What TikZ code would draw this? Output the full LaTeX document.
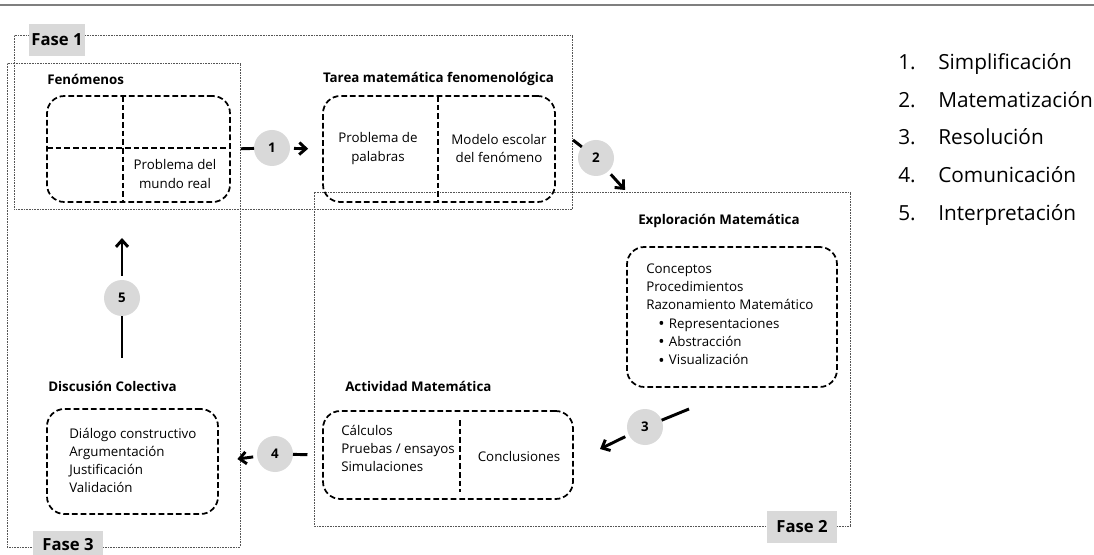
\documentclass[tikz,border=0pt]{standalone}
\usepackage{fontspec}
\setmainfont{Open Sans}
\usetikzlibrary{arrows.meta,fit}
\definecolor{cgray}{HTML}{D9D9D9}
\definecolor{lgray}{HTML}{7F7F7F}
\definecolor{fgray}{HTML}{555555}
\newcommand{\mybul}{\hspace*{9pt}\makebox[8pt][l]{\raisebox{-1.1pt}{\fontsize{12.5}{13}\selectfont\textbullet}}}
\tikzset{
  frame/.style={draw=fgray, line width=0.75pt, dash pattern=on 0.6pt off 0.6pt},
  dbox/.style={draw, line width=1.3pt, dash pattern=on 4.3pt off 2.2pt, rounded corners=13pt, inner sep=0pt},
  dline/.style={line width=1.3pt, dash pattern=on 4.3pt off 2.2pt},
  faselbl/.style={fill=cgray, font=\bfseries\fontsize{12.5}{14}\selectfont, inner sep=0pt},
  ttl/.style={font=\bfseries\fontsize{10}{12}\selectfont, inner sep=0pt},
  txt/.style={font=\fontsize{10}{13.7}\selectfont, inner sep=0pt},
  num/.style={circle, fill=cgray, minimum size=27pt, inner sep=0pt, outer sep=0pt, font=\bfseries\fontsize{10}{12}\selectfont},
  conn/.style={line width=2.2pt},
  arr/.style={line width=2.2pt, -{Straight Barb[length=5pt,width=9pt,line width=2.2pt]}},
  leg/.style={font=\fontsize{15.6}{18}\selectfont, inner sep=0pt, anchor=base west}
}
\begin{document}
\begin{tikzpicture}[x=0.75pt,y=-0.75pt]
\useasboundingbox (0,0) rectangle (1094,555);
% top rule
\draw[lgray, line width=1.1pt] (0,5) -- (1094,5);
% phase frames
\draw[frame] (14,36) rectangle (572,210);
\draw[frame] (7,64) rectangle (240,547);
\draw[frame] (314,193) rectangle (850,526);
\node[faselbl, minimum width=42pt, minimum height=24pt] (f1) at (57,40) {Fase 1};
\node[faselbl, minimum width=52.5pt, minimum height=26pt] (f3) at (68,548) {};
\node[font=\bfseries\fontsize{12.5}{14}\selectfont, inner sep=0pt] (f3t) at (68,545) {Fase 3};
\node[faselbl, minimum width=52.5pt, minimum height=24pt] (f2) at (802,527) {Fase 2};

% Fenomenos
\node[ttl, anchor=west] (tfen) at (47,79) {Fenómenos};
\node[dbox, fit={(47,96) (230,202)}] (fen) {};
\draw[dline] (123,96) -- (123,202);
\draw[dline] (47,148) -- (230,148);
\node[txt, align=center] (pmr) at (175,174) {Problema del\\mundo real};

% Tarea
\node[ttl] (ttar) at (438.5,79) {Tarea matemática fenomenológica};
\node[dbox, fit={(323,96) (555,202)}] (tar) {};
\draw[dline] (438,96) -- (438,202);
\node[txt, align=center] (ppal) at (378,148.5) {Problema de\\palabras};
\node[txt, align=center] (mod) at (499,148.5) {Modelo escolar\\del fenómeno};

% Exploracion
\node[ttl, anchor=west] (texp) at (638,221) {Exploración Matemática};
\node[dbox, fit={(627,247) (837,387)}] (exp) {};
\node[txt, align=left, anchor=west] (lexp) at (646,315) {Conceptos\\Procedimientos\\Razonamiento Matemático\\\mybul Representaciones\\\mybul Abstracción\\\mybul Visualización};

% Actividad
\node[ttl, anchor=west] (tact) at (345,386) {Actividad Matemática};
\node[dbox, fit={(323,411) (573,499)}] (act) {};
\draw[dline] (460,420) -- (460,492);
\node[txt, align=left, anchor=west] (lact) at (341,448.5) {Cálculos\\Pruebas / ensayos\\Simulaciones};
\node[txt] (conc) at (519,456) {Conclusiones};

% Discusion
\node[ttl, anchor=west] (tdis) at (48,386) {Discusión Colectiva};
\node[dbox, fit={(47,409) (218,514)}] (dis) {};
\node[txt, align=left, anchor=west] (ldis) at (69,460.5) {Diálogo constructivo\\Argumentación\\Justificación\\Validación};

% circles and connectors
\node[num] (c1) at (272,148) {1};
\node[num] (c2) at (596,158) {2};
\node[num] (c3) at (645,427) {3};
\node[num] (c4) at (275,454) {4};
\node[num] (c5) at (122,298) {5};

\draw[conn, shorten <=7.5pt] (fen.east) -- (c1);
\draw[arr, shorten <=3pt, shorten >=10.5pt] (c1) -- (tar.west);

\coordinate (s2) at (573,140);
\coordinate (e2) at (625,190);
\draw[conn] (s2) -- (c2);
\draw[arr, shorten <=3pt] (c2) -- (e2);

\coordinate (s3) at (689,409);
\coordinate (e3) at (600,449);
\draw[conn] (s3) -- (c3);
\draw[arr, shorten <=3pt] (c3) -- (e3);

\draw[conn, shorten <=11pt] (act.west) -- (c4);
\draw[arr, shorten <=3pt, shorten >=14pt] (c4) -- (dis.east);

\coordinate (s5) at (122,358);
\coordinate (e5) at (122,238);
\draw[conn] (s5) -- (c5);
\draw[arr, shorten <=3pt] (c5) -- (e5);

% legend
\foreach \n/\t [count=\i from 0] in {1/Simplificación,2/Matematización,3/Resolución,4/Comunicación,5/Interpretación}{
  \node[leg] (ln\n) at (898,69.5+37.75*\i) {\n.};
  \node[leg] (lt\n) at (938,69.5+37.75*\i) {\t};
}
\end{tikzpicture}
\end{document}
